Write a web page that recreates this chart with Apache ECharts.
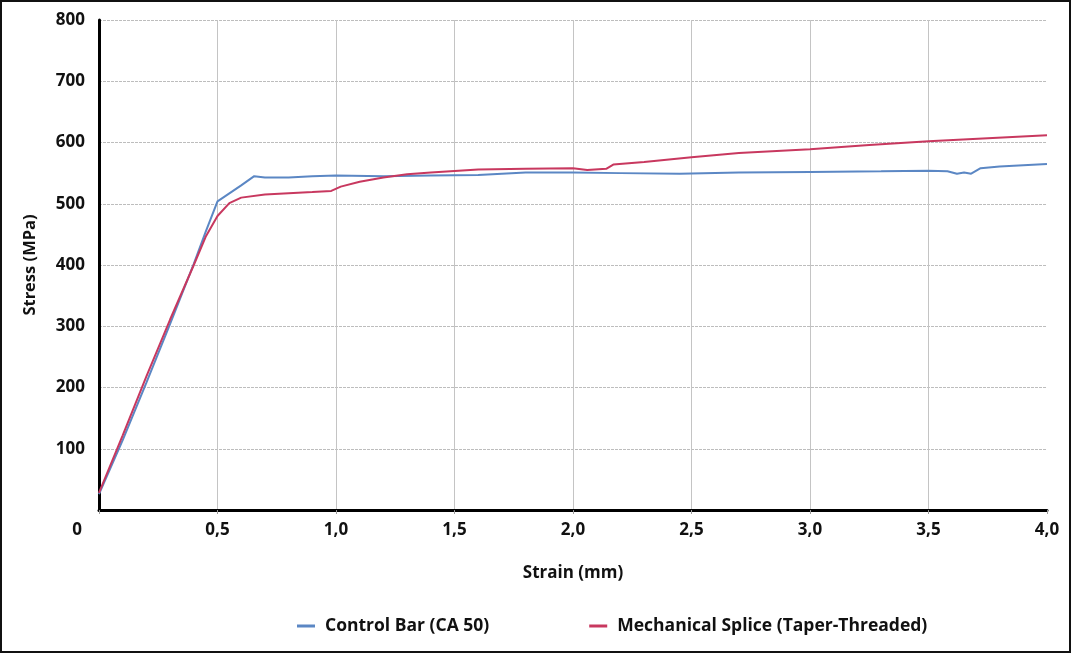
<!DOCTYPE html>
<html>
<head>
<meta charset="utf-8">
<script src="https://cdn.jsdelivr.net/npm/echarts@6/dist/echarts.min.js"></script>
<style>
  html, body { margin: 0; padding: 0; background: #fff; }
  #chart { width: 1072px; height: 654px; }
</style>
</head>
<body>
<div id="chart"></div>
<script>
// strain (mm) / stress (MPa)
var controlStrain = [0, 0.1, 0.2, 0.3, 0.4, 0.45, 0.5, 0.55, 0.6, 0.655, 0.7, 0.8, 0.9, 1.0, 1.2, 1.4, 1.6, 1.8, 2.0, 2.2, 2.45, 2.7, 3.0, 3.3, 3.5, 3.58, 3.62, 3.65, 3.68, 3.72, 3.8, 3.9, 4.0];
var controlStress = [26, 114, 208, 304, 402, 454, 504, 517, 530, 545, 543, 543, 545, 546, 545, 546, 547, 551, 551, 550, 549, 551, 552, 553, 554, 553, 549, 551, 549, 558, 561, 563, 565];
var spliceStrain = [0, 0.1, 0.2, 0.3, 0.4, 0.45, 0.5, 0.55, 0.6, 0.7, 0.8, 0.9, 0.98, 1.02, 1.1, 1.2, 1.3, 1.4, 1.6, 1.8, 2.0, 2.06, 2.14, 2.17, 2.3, 2.5, 2.7, 3.0, 3.25, 3.5, 3.75, 4.0];
var spliceStress = [28, 122, 218, 311, 400, 446, 480, 501, 510, 515, 517, 519, 521, 528, 536, 543, 548, 551, 556, 557, 558, 555, 557, 564, 568, 576, 583, 589, 596, 602, 607, 612];
var seriesNames = ['Control Bar (CA 50)', 'Mechanical Splice (Taper-Threaded)'];

function pairs(xs, ys) {
    var out = [];
    for (var i = 0; i < xs.length; i++) {
        out.push([xs[i], ys[i]]);
    }
    return out;
}

var font = '"Open Sans", "DejaVu Sans", sans-serif';
var chart = echarts.init(document.getElementById('chart'));
chart.setOption({
    backgroundColor: '#fff',
    animation: false,
    grid: { left: 99, right: 25, top: 20, bottom: 144, containLabel: false },
    graphic: [{
        type: 'rect',
        shape: { x: 1, y: 1, width: 1069, height: 651 },
        style: { fill: 'none', stroke: '#111', lineWidth: 2 },
        silent: true
    }],
    legend: {
        data: seriesNames,
        bottom: 14,
        left: 292,
        itemWidth: 18,
        itemHeight: 3,
        itemGap: 100,
        icon: 'rect',
        textStyle: { fontFamily: font, fontWeight: 'bold', fontSize: 17.5, color: '#111', padding: [0, 0, 0, 5] }
    },
    xAxis: {
        type: 'value',
        min: 0,
        max: 4,
        interval: 0.5,
        name: 'Strain (mm)',
        nameLocation: 'middle',
        nameGap: 55,
        nameTextStyle: { fontFamily: font, fontWeight: 'bold', fontSize: 17, color: '#111' },
        axisLine: { show: true, onZero: false, lineStyle: { color: '#000', width: 3 } },
        axisTick: { show: true, length: 4, lineStyle: { color: '#999' } },
        axisLabel: {
            margin: 12,
            fontFamily: font, fontWeight: 'bold', fontSize: 17, color: '#111',
            formatter: function (v) {
                if (v === 0) return '{z|0}';
                return v.toFixed(1).replace('.', ',');
            },
            rich: { z: { fontFamily: font, fontWeight: 'bold', fontSize: 17, color: '#111', padding: [0, 44, 0, 0] } }
        },
        splitLine: { show: true, showMinLine: false, showMaxLine: false, lineStyle: { color: '#c4c4c4', width: 1 } }
    },
    yAxis: {
        type: 'value',
        min: 0,
        max: 800,
        interval: 100,
        name: 'Stress (MPa)',
        nameLocation: 'middle',
        nameGap: 60,
        nameRotate: 90,
        nameTextStyle: { fontFamily: font, fontWeight: 'bold', fontSize: 16.5, color: '#111' },
        axisLine: { show: true, lineStyle: { color: '#000', width: 3 } },
        axisTick: { show: false },
        axisLabel: {
            margin: 14,
            fontFamily: font, fontWeight: 'bold', fontSize: 17, color: '#111',
            formatter: function (v) { return v === 0 ? '' : String(v); }
        },
        splitLine: { show: true, showMinLine: false, lineStyle: { color: '#bdbdbd', width: 1, type: [3, 1] } }
    },
    series: [{
        name: seriesNames[0],
        type: 'line',
        data: pairs(controlStrain, controlStress),
        showSymbol: false,
        color: '#5b87c4',
        lineStyle: { width: 2 }
    }, {
        name: seriesNames[1],
        type: 'line',
        data: pairs(spliceStrain, spliceStress),
        showSymbol: false,
        color: '#c8385f',
        lineStyle: { width: 2 }
    }]
});
</script>
</body>
</html>
